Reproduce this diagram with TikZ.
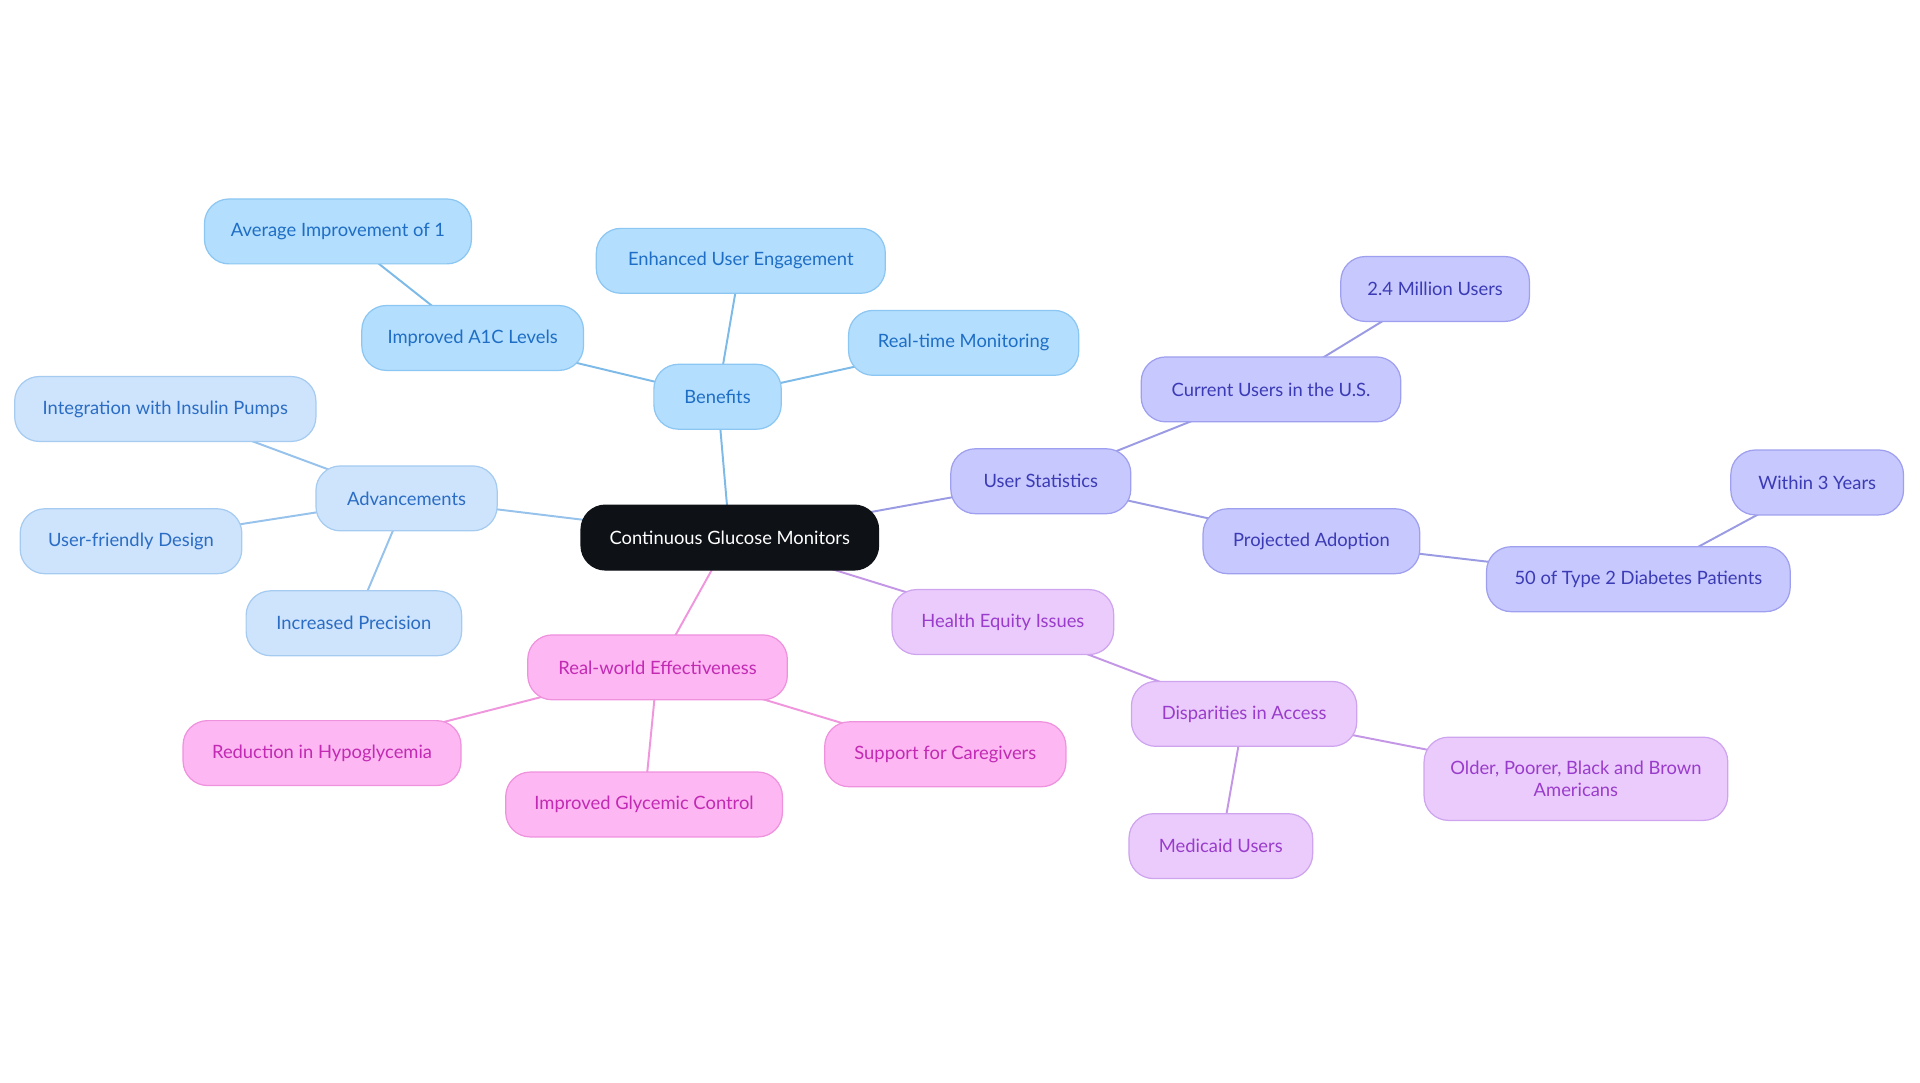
\documentclass[tikz,border=0pt]{standalone}
\usepackage{fontspec}
\setmainfont{Lato}
\usepackage{tikz}
\usetikzlibrary{calc, backgrounds}
\definecolor{hubBlack}{HTML}{0E1217}
\definecolor{benFill}{HTML}{B4DEFD}
\definecolor{benLine}{HTML}{8CC6F2}
\definecolor{benText}{HTML}{1E6EC6}
\definecolor{benEdge}{HTML}{7DBAE8}
\definecolor{advFill}{HTML}{CDE4FC}
\definecolor{advLine}{HTML}{A6CBF0}
\definecolor{advText}{HTML}{2B6CC4}
\definecolor{advEdge}{HTML}{96C2EB}
\definecolor{usrFill}{HTML}{C7C8FD}
\definecolor{usrLine}{HTML}{9E9FEE}
\definecolor{usrText}{HTML}{3B3BB5}
\definecolor{usrEdge}{HTML}{9A9BE3}
\definecolor{eqFill}{HTML}{EACBFC}
\definecolor{eqLine}{HTML}{CFA4EF}
\definecolor{eqText}{HTML}{9A3CCB}
\definecolor{eqEdge}{HTML}{C497E6}
\definecolor{rwFill}{HTML}{FDB7F2}
\definecolor{rwLine}{HTML}{EE92DE}
\definecolor{rwText}{HTML}{C22AB3}
\definecolor{rwEdge}{HTML}{EF96DD}

\begin{document}
\begin{tikzpicture}[x=1pt, y=-1pt,
    pill/.style={rounded corners=20pt, minimum height=53pt, inner xsep=16pt,
        line width=1pt, font=\fontsize{15}{17.5}\selectfont, align=center},
    hub/.style={pill, fill=hubBlack, draw=hubBlack, text=white},
    ben/.style={pill, fill=benFill, draw=benLine, text=benText},
    adv/.style={pill, fill=advFill, draw=advLine, text=advText},
    usr/.style={pill, fill=usrFill, draw=usrLine, text=usrText},
    eq/.style={pill, fill=eqFill, draw=eqLine, text=eqText},
    rw/.style={pill, fill=rwFill, draw=rwLine, text=rwText},
    link/.style={line width=1.6pt}]
    \useasboundingbox (0,0) rectangle (1568,884);

    % centre
    \node[hub, minimum width=243pt] (cgm) at (596,439) {Continuous Glucose Monitors};

    % benefits
    \node[ben, minimum width=104pt] (benefits) at (586,324) {Benefits};
    \node[ben, minimum width=181pt] (a1c) at (386,276) {Improved A1C Levels};
    \node[ben, minimum width=218pt] (avg) at (276,189) {Average Improvement of 1};
    \node[ben, minimum width=236pt] (engage) at (605,213) {Enhanced User Engagement};
    \node[ben, minimum width=188pt] (realtime) at (787,280) {Real-time Monitoring};

    % advancements
    \node[adv, minimum width=148pt] (advance) at (332,407) {Advancements};
    \node[adv, minimum width=246pt] (pumps) at (135,334) {Integration with Insulin Pumps};
    \node[adv, minimum width=181pt] (design) at (107,442) {User-friendly Design};
    \node[adv, minimum width=176pt] (precision) at (289,509) {Increased Precision};

    % user statistics
    \node[usr, minimum width=147pt] (stats) at (850,393) {User Statistics};
    \node[usr, minimum width=212pt] (current) at (1038,318) {Current Users in the U.S.};
    \node[usr, minimum width=154pt] (million) at (1172,236) {2.4 Million Users};
    \node[usr, minimum width=177pt] (projected) at (1071,442) {Projected Adoption};
    \node[usr, minimum width=248pt] (type2) at (1338,473) {50 of Type 2 Diabetes Patients};
    \node[usr, minimum width=141pt] (years) at (1484,394) {Within 3 Years};

    % health equity
    \node[eq, minimum width=181pt] (equity) at (819,508) {Health Equity Issues};
    \node[eq, minimum width=184pt] (access) at (1016,583) {Disparities in Access};
    \node[eq, minimum width=248pt, minimum height=68pt] (older) at (1287,636) {Older, Poorer, Black and Brown\\Americans};
    \node[eq, minimum width=150pt] (medicaid) at (997,691) {Medicaid Users};

    % real-world effectiveness
    \node[rw, minimum width=212pt] (realworld) at (537,545) {Real-world Effectiveness};
    \node[rw, minimum width=227pt] (hypo) at (263,615) {Reduction in Hypoglycemia};
    \node[rw, minimum width=226pt] (glycemic) at (526,657) {Improved Glycemic Control};
    \node[rw, minimum width=197pt] (carers) at (772,616) {Support for Caregivers};

    % connectors, centre to centre behind the pills
    \begin{pgfonlayer}{background}
    \draw[link, benEdge] (cgm.center) -- (benefits.center);
    \draw[link, benEdge] (benefits.center) -- (a1c.center);
    \draw[link, benEdge] (a1c.center) -- (avg.center);
    \draw[link, benEdge] (benefits.center) -- (engage.center);
    \draw[link, benEdge] (benefits.center) -- (realtime.center);
    \draw[link, advEdge] (cgm.center) -- (advance.center);
    \draw[link, advEdge] (advance.center) -- (pumps.center);
    \draw[link, advEdge] (advance.center) -- (design.center);
    \draw[link, advEdge] (advance.center) -- (precision.center);
    \draw[link, usrEdge] (cgm.center) -- (stats.center);
    \draw[link, usrEdge] (stats.center) -- (current.center);
    \draw[link, usrEdge] (current.center) -- (million.center);
    \draw[link, usrEdge] (stats.center) -- (projected.center);
    \draw[link, usrEdge] (projected.center) -- (type2.center);
    \draw[link, usrEdge] (type2.center) -- (years.center);
    \draw[link, eqEdge] (cgm.center) -- (equity.center);
    \draw[link, eqEdge] (equity.center) -- (access.center);
    \draw[link, eqEdge] (access.center) -- (older.center);
    \draw[link, eqEdge] (access.center) -- (medicaid.center);
    \draw[link, rwEdge] (cgm.center) -- (realworld.center);
    \draw[link, rwEdge] (realworld.center) -- (hypo.center);
    \draw[link, rwEdge] (realworld.center) -- (glycemic.center);
    \draw[link, rwEdge] (realworld.center) -- (carers.center);
    \end{pgfonlayer}
\end{tikzpicture}
\end{document}
